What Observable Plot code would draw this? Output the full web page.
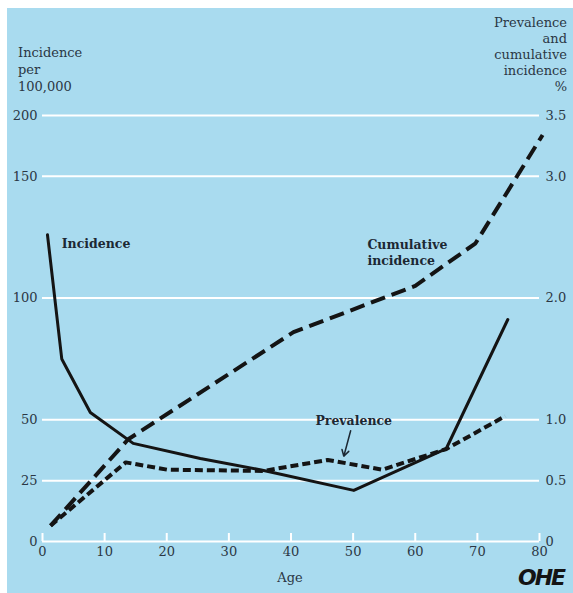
<!DOCTYPE html>
<html>
<head>
<meta charset="utf-8">
<script src="https://cdn.jsdelivr.net/npm/d3@7"></script>
<script src="https://cdn.jsdelivr.net/npm/@observablehq/plot@0.6"></script>
<style>
  html, body { margin: 0; padding: 0; background: #ffffff; }
  #wrap { position: relative; width: 573px; height: 593px; overflow: hidden; font-family: "DejaVu Serif", serif; color: #2b3744; }
  #bg { position: absolute; left: 7px; top: 8px; right: 0; bottom: 0; background: #a9dbef; }
  #chart { position: absolute; left: 0; top: 0; }
  .ttl { position: absolute; font-size: 13px; white-space: pre; }
</style>
</head>
<body>
<div id="wrap">
  <div id="bg"></div>
  <div id="chart"></div>
  <div class="ttl" style="left:18px; top:44px; line-height:17px; text-align:left;">Incidence
per
100,000</div>
  <div class="ttl" style="right:6px; top:15px; line-height:16px; text-align:right;">Prevalence
and
cumulative
incidence
%</div>
  <div class="ttl" style="left:266px; top:570px; width:48px; line-height:16px; text-align:center;">Age</div>
  <div class="ttl" style="left:518px; top:565px; font-family:'DejaVu Sans',sans-serif; font-size:22px; font-weight:bold; font-style:italic; letter-spacing:-2px; color:#141414;">OHE</div>
</div>
<script>
// ---- data ----
// Incidence per 100,000 (solid line)
const incidenceAge = [0.8, 3.1, 7.7, 14.6, 25.4, 35.6, 50.1, 65, 74.9];
const incidenceVal = [126, 75, 53, 40.3, 34.1, 29.2, 21, 38.2, 91.2];
// Prevalence % (short dashes)
const prevalenceAge = [1.3, 13.4, 20.1, 35.6, 45.9, 54.7, 65, 74.5];
const prevalenceVal = [0.13, 0.65, 0.59, 0.58, 0.67, 0.59, 0.76, 1.03];
// Cumulative incidence % (long dashes)
const cumulativeAge = [1.3, 13.8, 40.4, 60, 69.7, 80.5];
const cumulativeVal = [0.13, 0.84, 1.72, 2.1, 2.45, 3.34];

// axis ticks
const xTicks = [0, 10, 20, 30, 40, 50, 60, 70, 80];
const rightTickValues = [0, 0.5, 1, 2, 3, 3.5];
const rightTickLabels = ["0", "0.5", "1.0", "2.0", "3.0", "3.5"];
const leftTickLabels = ["0", "25", "50", "100", "150", "200"];
const gridValues = [0.5, 1, 2, 3, 3.5];

// incidence per 100,000 shown against the % scale: 50 per 100,000 <-> 1 %
const INCIDENCE_PER_PERCENT = 50;

const incidence = incidenceAge.map((a, i) => ({age: a, pct: incidenceVal[i] / INCIDENCE_PER_PERCENT}));
const prevalence = prevalenceAge.map((a, i) => ({age: a, pct: prevalenceVal[i]}));
const cumulative = cumulativeAge.map((a, i) => ({age: a, pct: cumulativeVal[i]}));

// annotations
const leftLabels = [
  {text: "Incidence", age: 3.1, pct: 2.45},
  {text: "Cumulative\nincidence", age: 52.3, pct: 2.38}
];
const centerLabels = [
  {text: "Prevalence", age: 50.1, pct: 0.99}
];
const pointer = [{age1: 49.6, pct1: 0.91, age2: 48.5, pct2: 0.70}];

const ink = "#141414";

const chart = Plot.plot({
  width: 573,
  height: 593,
  marginLeft: 42,
  marginRight: 34,
  marginTop: 115,
  marginBottom: 52,
  x: {domain: [0, 80]},
  y: {domain: [0, 3.5]},
  style: {background: "transparent", fontFamily: "DejaVu Serif, serif", fontSize: "13px", color: "#2b3744", overflow: "visible"},
  marks: [
    Plot.ruleY(gridValues, {stroke: "white", strokeWidth: 2}),
    Plot.ruleY([0], {stroke: "white", strokeWidth: 2}),
    Plot.axisX({ticks: xTicks, tickSize: -8, tickPadding: 13, stroke: "white", strokeWidth: 2, label: null, tickFormat: d => String(d)}),
    Plot.axisY({anchor: "left", ticks: rightTickValues, tickSize: 0, tickPadding: 5, label: null,
      tickFormat: d => leftTickLabels[rightTickValues.indexOf(d)]}),
    Plot.axisY({anchor: "right", ticks: rightTickValues, tickSize: 0, tickPadding: 6, label: null,
      tickFormat: d => rightTickLabels[rightTickValues.indexOf(d)]}),
    Plot.line(cumulative, {x: "age", y: "pct", stroke: ink, strokeWidth: 4, strokeDasharray: "15,7", strokeLinecap: "butt"}),
    Plot.line(prevalence, {x: "age", y: "pct", stroke: ink, strokeWidth: 4, strokeDasharray: "8,4", strokeLinecap: "butt"}),
    Plot.line(incidence, {x: "age", y: "pct", stroke: ink, strokeWidth: 3}),
    Plot.text(leftLabels, {x: "age", y: "pct", text: "text", textAnchor: "start", fontWeight: "bold", fontSize: 12.5, lineHeight: 1.28, fill: "#1c2833"}),
    Plot.text(centerLabels, {x: "age", y: "pct", text: "text", textAnchor: "middle", fontWeight: "bold", fontSize: 12.5, fill: "#1c2833"}),
    Plot.arrow(pointer, {x1: "age1", y1: "pct1", x2: "age2", y2: "pct2", stroke: "#1c2833", strokeWidth: 1.5, headLength: 7})
  ]
});
document.getElementById("chart").appendChild(chart);
</script>
</body>
</html>
